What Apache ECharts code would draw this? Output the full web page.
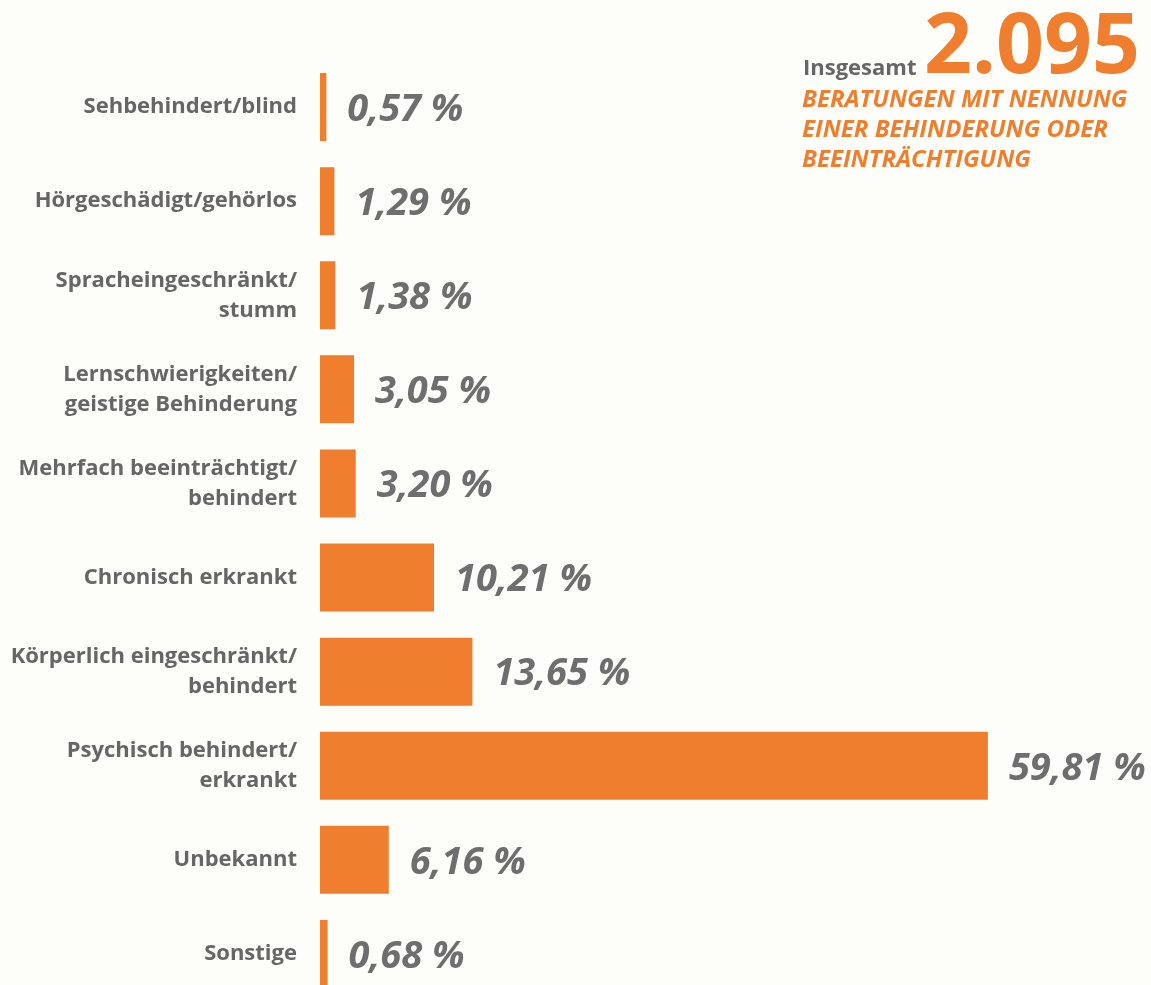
<!DOCTYPE html>
<html>
<head>
<meta charset="utf-8">
<script src="https://cdn.jsdelivr.net/npm/echarts@6/dist/echarts.min.js"></script>
<style>
html,body{margin:0;padding:0;background:#fdfdf9;overflow:hidden;}
#chart{width:1151px;height:1001px;}
</style>
</head>
<body>
<div id="chart"></div>
<script>
const categories = [
  'Sehbehindert/blind',
  'Hörgeschädigt/gehörlos',
  'Spracheingeschränkt/\nstumm',
  'Lernschwierigkeiten/\ngeistige Behinderung',
  'Mehrfach beeinträchtigt/\nbehindert',
  'Chronisch erkrankt',
  'Körperlich eingeschränkt/\nbehindert',
  'Psychisch behindert/\nerkrankt',
  'Unbekannt',
  'Sonstige'
];
const values = [0.57, 1.29, 1.38, 3.05, 3.20, 10.21, 13.65, 59.81, 6.16, 0.68];
const totalLabel = 'Insgesamt';
const totalValue = '2.095';
const subtitleLines = ['BERATUNGEN MIT NENNUNG', 'EINER BEHINDERUNG ODER', 'BEEINTRÄCHTIGUNG'];

const ORANGE = '#ef7f2e';
const GREY = '#6e6e6e';
const chart = echarts.init(document.getElementById('chart'));
chart.setOption({
  backgroundColor: '#fdfdf9',
  animation: false,
  grid: { left: 320, top: 60, width: 670, bottom: 0 },
  xAxis: { type: 'value', min: 0, max: 60, show: false },
  yAxis: {
    type: 'category', data: categories, inverse: true,
    axisLine: { show: false }, axisTick: { show: false },
    axisLabel: {
      margin: 23, fontSize: 22, fontWeight: 'bold', color: '#666666',
      fontFamily: 'Open Sans', lineHeight: 30, align: 'right', padding: [3, 0, 0, 0]
    }
  },
  series: [{
    type: 'bar', data: values, barWidth: 68,
    itemStyle: { color: ORANGE },
    label: {
      show: true, position: 'right', distance: 21, offset: [0, 3],
      formatter: p => p.value.toFixed(2).replace('.', ',') + ' %',
      fontFamily: 'Open Sans', fontSize: 38, fontWeight: 'bold', fontStyle: 'italic', color: GREY
    }
  }],
  graphic: [
    { type: 'text', left: 803, top: 58, style: { text: totalLabel, fontFamily: 'Open Sans', fontSize: 22, fontWeight: 'bold', fill: '#666666' } },
    { type: 'text', left: 924, top: 7, style: { text: totalValue, fontFamily: 'Open Sans', fontSize: 84, fontWeight: 'bold', fill: ORANGE } },
    { type: 'text', left: 802, top: 85, style: { text: subtitleLines.join('\n'), fontFamily: 'Open Sans', fontSize: 24, fontWeight: 'bold', fontStyle: 'italic', lineHeight: 30, fill: ORANGE } }
  ]
});
</script>
</body>
</html>
